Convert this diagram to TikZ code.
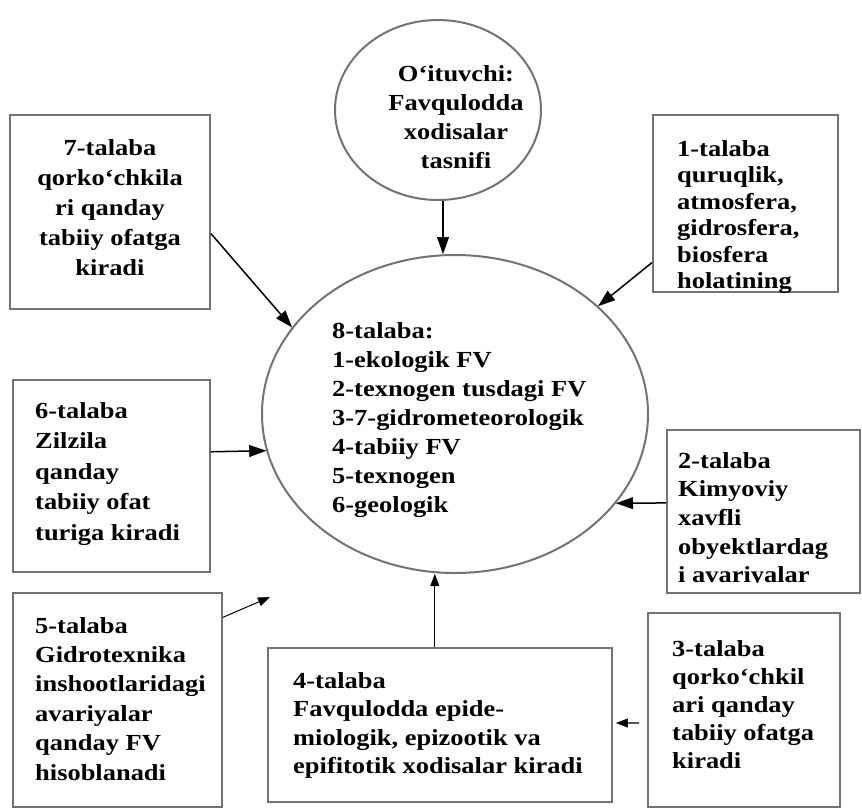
\documentclass[tikz,border=0pt]{standalone}
\usepackage{fontspec}
\setmainfont{Liberation Serif}[FakeStretch=1.15]
\usetikzlibrary{shapes.geometric,arrows.meta,calc}
\begin{document}
\begin{tikzpicture}[x=1pt,y=-1pt,
  frame/.style={draw=black!55, line width=1.8pt, rectangle, inner sep=0pt},
  oval/.style={draw=black!55, line width=2pt, ellipse, inner sep=0pt},
  txt/.style={inner sep=0pt, text=black, font=\bfseries\fontsize{23}{29}\selectfont},
  bigtip/.tip={Triangle[length=17pt,width=12pt,fill=black,line width=0.5pt]},
  smalltip/.tip={Triangle[length=12pt,width=9pt,fill=black,line width=0.5pt]},
  arr/.style={draw=black, line width=1.5pt, -bigtip},
  arrsmall/.style={draw=black, line width=1.2pt, -smalltip},
]
\path[use as bounding box] (0,0) rectangle (862,809);

% shapes
\node[oval, minimum width=206, minimum height=180] (teach) at (438,110) {};
\node[oval, minimum width=386, minimum height=318] (big) at (455,414) {};
\node[frame, minimum width=200, minimum height=194] (b7) at (110,212) {};
\node[frame, minimum width=185, minimum height=177] (b1) at (745.5,203.5) {};
\node[frame, minimum width=197, minimum height=192] (b6) at (111.5,476) {};
\node[frame, minimum width=193, minimum height=163] (b2) at (763.5,511.5) {};
\node[frame, minimum width=209, minimum height=214] (b5) at (117.5,700) {};
\node[frame, minimum width=344, minimum height=154] (b4) at (440,725) {};
\node[frame, minimum width=192, minimum height=194] (b3) at (744,710) {};

% texts
\node[txt, align=center, anchor=north] (tteach) at (456,65)
  {O‘ituvchi:\\Favqulodda\\xodisalar\\tasnifi};
\node[txt, align=left, anchor=north west] (tbig) at (332,322)
  {8-talaba:\\1-ekologik FV\\2-texnogen tusdagi FV\\3-7-gidrometeorologik\\4-tabiiy FV\\5-texnogen\\6-geologik};
\node[txt, align=center, anchor=north, font=\bfseries\fontsize{23}{30}\selectfont] (t7) at (110,139)
  {7-talaba\\qorko‘chkila\\ri qanday\\tabiiy ofatga\\kiradi};
\node[txt, align=left, anchor=north west, font=\bfseries\fontsize{23}{26.5}\selectfont] (t1) at (677,140)
  {1-talaba\\quruqlik,\\atmosfera,\\gidrosfera,\\biosfera\\holatining};
\node[txt, align=left, anchor=north west, font=\bfseries\fontsize{23}{30.5}\selectfont] (t6) at (35,402)
  {6-talaba\\Zilzila\\qanday\\tabiiy ofat\\turiga kiradi};
\begin{scope}
  \clip (b2.north west) rectangle ($(b2.south east)+(0,-11)$);
  \node[txt, align=left, anchor=north west, font=\bfseries\fontsize{23}{28.7}\selectfont] (t2) at (678,452)
    {2-talaba\\Kimyoviy\\xavfli\\obyektlardag\\i avariyalar};
\end{scope}
\node[txt, align=left, anchor=north west, font=\bfseries\fontsize{23}{29.4}\selectfont] (t5) at (35,617)
  {5-talaba\\Gidrotexnika\\inshootlaridagi\\avariyalar\\qanday FV\\hisoblanadi};
\node[txt, align=left, anchor=north west, font=\bfseries\fontsize{23}{28.5}\selectfont] (t4) at (293,672)
  {4-talaba\\Favqulodda epide-\\miologik, epizootik va\\epifitotik xodisalar kiradi};
\node[txt, align=left, anchor=north west, font=\bfseries\fontsize{23}{28}\selectfont] (t3) at (672,640)
  {3-talaba\\qorko‘chkil\\ari qanday\\tabiiy ofatga\\kiradi};

% connectors
\coordinate (ax) at (443,0);
\draw[arr] (teach.south -| ax) -- (big.north -| ax);
\draw[arr] ($(b7.north east)!0.61!(b7.south east)$) -- (big.152);
\draw[arr] ($(b1.north west)!0.83!(b1.south west)$) -- (big.37);
\draw[arr] ($(b6.north east)!0.375!(b6.south east)$) -- (big.191);
\draw[arr] ($(b2.north west)!0.448!(b2.south west)$) -- (big.331);
\coordinate (b4top) at ($(b4.north west)!0.485!(b4.north east)$);
\draw[arrsmall] (b4top) -- (b4top |- big.south);
\draw[arrsmall, shorten <=8pt, shorten >=3pt] ($(b3.north west)!0.567!(b3.south west)$) -- ($(b4.north east)!0.487!(b4.south east)$);
\coordinate (e5) at (270,597);
\draw[arrsmall, line width=1pt] ($(b5.north east)!0.117!(b5.south east)$) -- (e5);
\end{tikzpicture}
\end{document}
